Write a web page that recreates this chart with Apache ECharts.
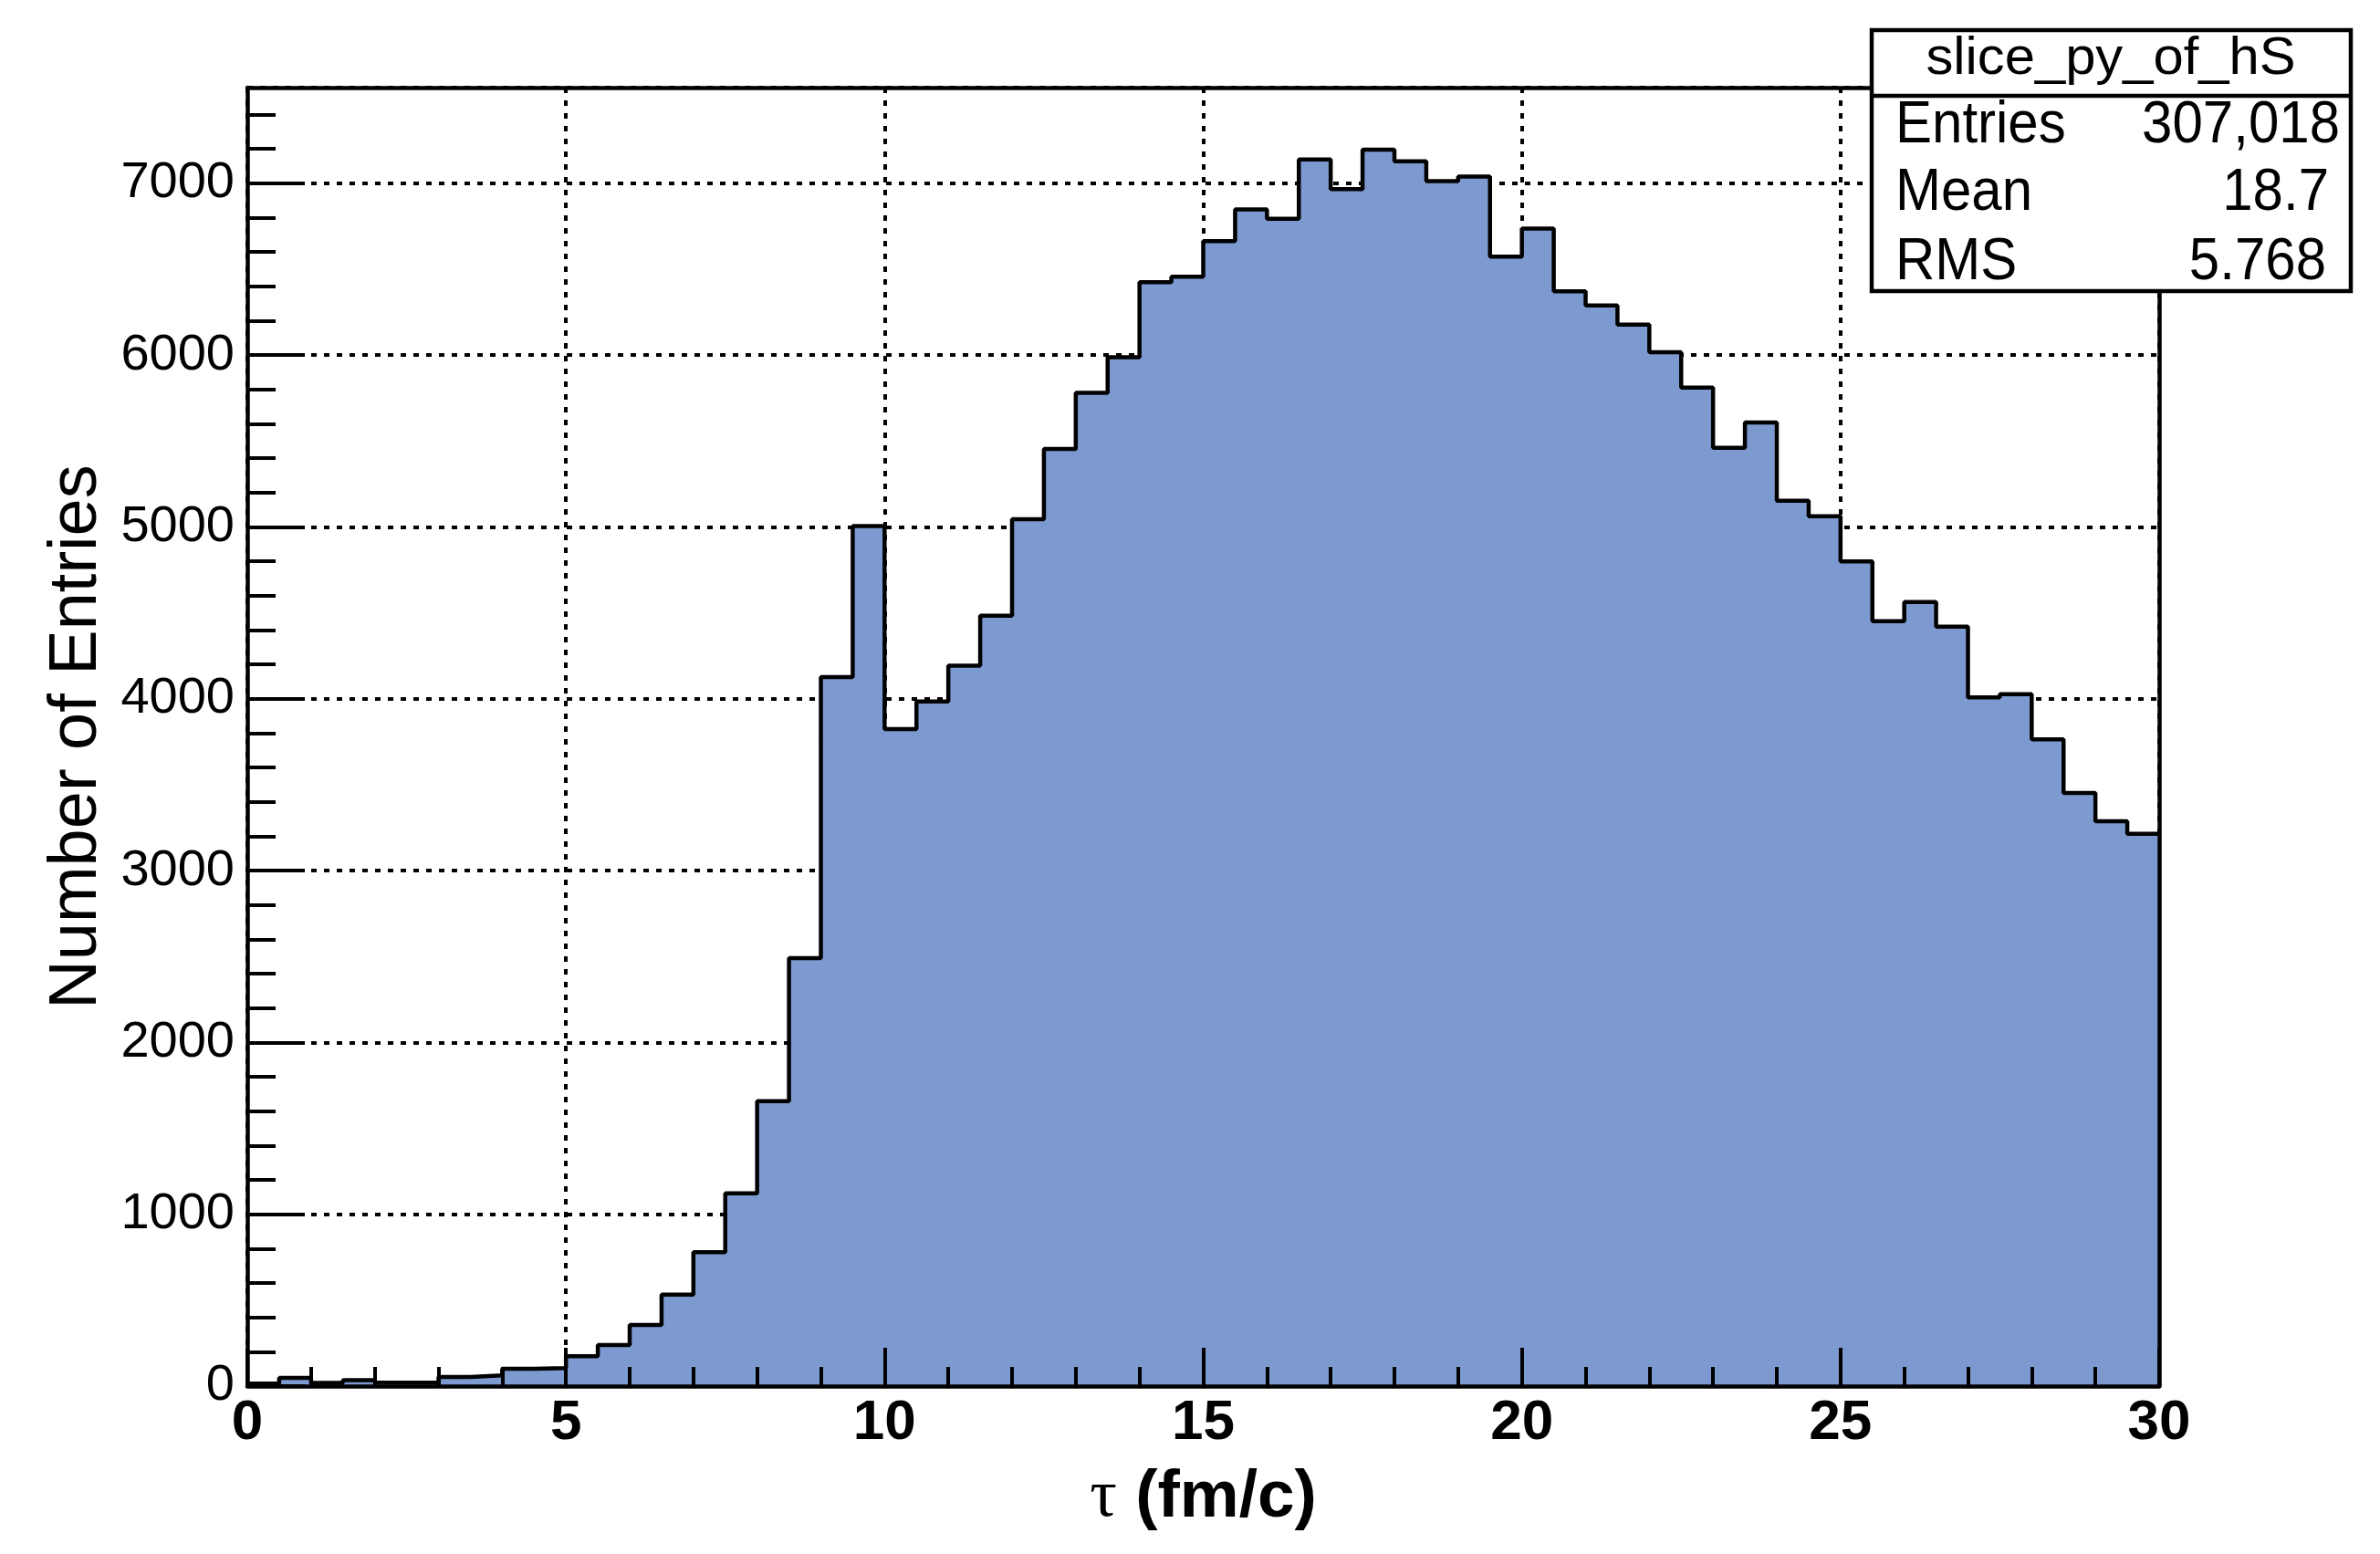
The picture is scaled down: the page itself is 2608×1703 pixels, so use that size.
<!DOCTYPE html>
<html>
<head>
<meta charset="utf-8">
<title>slice_py_of_hS</title>
<script src="https://cdn.jsdelivr.net/npm/echarts@6/dist/echarts.min.js"></script>
<style>
  html, body { margin: 0; padding: 0; background: #fff; }
  #chart { width: 2608px; height: 1703px; }
</style>
</head>
<body>
<div id="chart"></div>
<script>
// histogram bins, 0.5 fm/c wide from 0 to 30
const binWidth = 0.5
const xMin = 0
const xMax = 30
const counts = [
  15, 48, 19, 35, 20, 20, 53, 62, 101, 105,
  174, 239, 356, 533, 779, 1122, 1658, 2491, 4126, 5005,
  3824, 3984, 4193, 4484, 5045, 5454, 5781, 5988, 6425, 6456,
  6663, 6848, 6793, 7139, 6966, 7196, 7128, 7013, 7039, 6573,
  6736, 6372, 6289, 6177, 6017, 5811, 5460, 5608, 5153, 5062,
  4799, 4452, 4563, 4420, 4008, 4027, 3764, 3452, 3287, 3214
]
const yMax = 7557

const xMajorTicks = [0, 5, 10, 15, 20, 25, 30]
const yMajorTicks = [0, 1000, 2000, 3000, 4000, 5000, 6000, 7000]
const xMinorStep = 1
const yMinorStep = 200

const statsTitle = 'slice_py_of_hS'
const statsNames = ['Entries', 'Mean', 'RMS']
const statsValues = ['307,018', '18.7', '5.768']

const xTitle = '{t|τ} (fm/c)'
const yTitle = 'Number of Entries'

const fillColor = '#7d9ad0'
const font = 'Liberation Sans'

// minor tick positions (skip the majors)
const xMinorTicks = []
for (let v = xMin; v <= xMax; v += xMinorStep) {
  if (xMajorTicks.indexOf(v) < 0) xMinorTicks.push(v)
}
const yMinorTicks = []
for (let v = 0; v <= yMax; v += yMinorStep) {
  if (yMajorTicks.indexOf(v) < 0) yMinorTicks.push(v)
}

// step outline: left edge of every bin, plus the closing edge
const stepData = counts.map((c, i) => [xMin + i * binWidth, c])
stepData.push([xMax, counts[counts.length - 1]])

const dotted = { color: '#000', width: 4, type: [6, 8] }
const frame = { color: '#000', width: 4.5 }
const tickLine = { color: '#000', width: 4 }
const hidden = { show: false }

function xBase (extra) {
  return Object.assign({
    type: 'value', min: xMin, max: xMax, interval: 5, position: 'bottom',
    axisLine: hidden, axisTick: hidden, axisLabel: hidden, splitLine: hidden
  }, extra)
}
function yBase (extra) {
  return Object.assign({
    type: 'value', min: 0, max: yMax, interval: 1000, position: 'left',
    axisLine: hidden, axisTick: hidden, axisLabel: hidden, splitLine: hidden
  }, extra)
}

const chart = echarts.init(document.getElementById('chart'), null, { renderer: 'canvas' })

const rowY = [138, 212, 288]
const valueX = [2564, 2552, 2549]
const statsText = (text, x, y, align) => ({
  type: 'text', x: x, y: y, scaleY: 1.08, z: 100,
  style: { text: text, font: '60px "' + font + '"', fill: '#000', align: align, verticalAlign: 'middle' }
})

chart.setOption({
  animation: false,
  backgroundColor: '#fff',
  grid: { left: 271, right: 242, top: 96, bottom: 184, containLabel: false, outerBoundsMode: 'none' },
  xAxis: [
    // dotted grid, under the histogram
    xBase({ z: 0, splitLine: { show: true, lineStyle: dotted } }),
    // axis line, major ticks, labels, title
    xBase({
      z: 5,
      axisLine: { show: true, onZero: false, lineStyle: frame },
      axisTick: { show: true, inside: true, length: 42, customValues: xMajorTicks, lineStyle: tickLine },
      axisLabel: {
        show: true, customValues: xMajorTicks, margin: 10,
        fontFamily: font, fontWeight: 'bold', fontSize: 62, color: '#000'
      },
      name: xTitle,
      nameLocation: 'middle',
      nameGap: 86,
      nameTextStyle: {
        fontFamily: font, fontWeight: 'bold', fontSize: 73, color: '#000',
        rich: { t: { fontFamily: 'Liberation Serif', fontWeight: 'normal', fontSize: 74, color: '#000' } }
      }
    }),
    // minor ticks
    xBase({
      z: 5,
      axisTick: { show: true, inside: true, length: 21, customValues: xMinorTicks, lineStyle: tickLine }
    }),
    // top frame line
    xBase({ z: 5, position: 'top', axisLine: { show: true, onZero: false, lineStyle: frame } })
  ],
  yAxis: [
    yBase({ z: 0, splitLine: { show: true, lineStyle: dotted } }),
    yBase({
      z: 5,
      axisLine: { show: true, onZero: false, lineStyle: frame },
      axisTick: { show: true, inside: true, length: 63, customValues: yMajorTicks, lineStyle: tickLine },
      axisLabel: {
        show: true, customValues: yMajorTicks, margin: 14,
        formatter: v => String(v),
        fontFamily: font, fontSize: 56, color: '#000'
      },
      name: yTitle,
      nameLocation: 'middle',
      nameGap: 140,
      nameTextStyle: { fontFamily: font, fontSize: 74, color: '#000' }
    }),
    yBase({
      z: 5,
      axisTick: { show: true, inside: true, length: 31, customValues: yMinorTicks, lineStyle: tickLine }
    }),
    // right frame line
    yBase({ z: 5, position: 'right', axisLine: { show: true, onZero: false, lineStyle: frame } })
  ],
  series: [{
    type: 'line',
    step: 'end',
    xAxisIndex: 0,
    yAxisIndex: 0,
    data: stepData,
    symbol: 'none',
    silent: true,
    z: 2,
    lineStyle: { color: '#000', width: 4.5 },
    areaStyle: { color: fillColor, opacity: 1 }
  }],
  graphic: [
    { type: 'rect', z: 100, shape: { x: 2051, y: 33, width: 525, height: 286 }, style: { fill: '#fff', stroke: '#000', lineWidth: 4.5 } },
    { type: 'line', z: 101, shape: { x1: 2051, y1: 105, x2: 2576, y2: 105 }, style: { stroke: '#000', lineWidth: 4.5 } },
    {
      type: 'text', x: 2313, y: 65, scaleX: 1.03, z: 101,
      style: { text: statsTitle, font: '58px "' + font + '"', fill: '#000', align: 'center', verticalAlign: 'middle' }
    },
    ...statsNames.map((n, i) => statsText(n, 2077, rowY[i], 'left')),
    ...statsValues.map((v, i) => statsText(v, valueX[i], rowY[i], 'right'))
  ]
})
</script>
</body>
</html>
